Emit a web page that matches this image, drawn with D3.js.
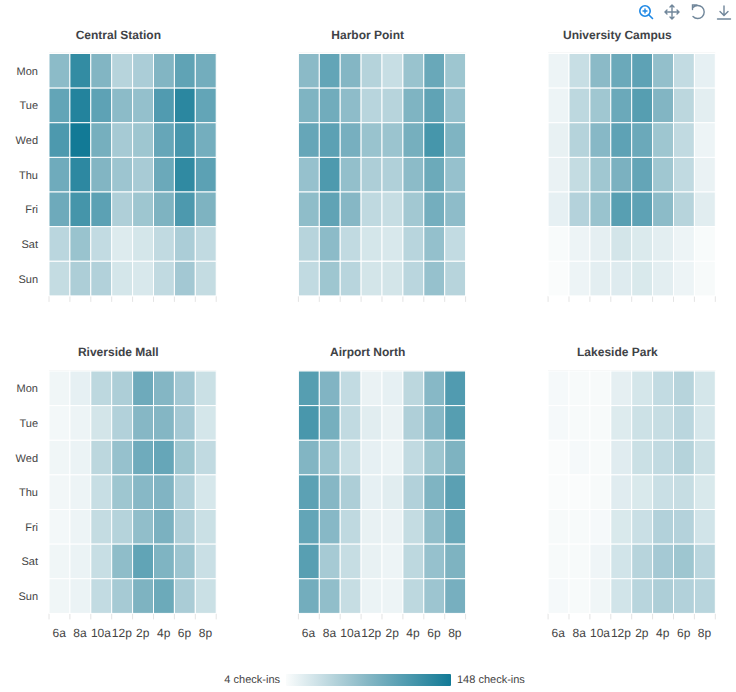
<!DOCTYPE html>
<html><head><meta charset="utf-8">
<script src="https://cdn.jsdelivr.net/npm/d3@7"></script>
<style>html,body{margin:0;padding:0;background:#fff}svg{display:block}text{font-family:"Liberation Sans",Arial,sans-serif;text-rendering:geometricPrecision}</style>
</head><body><div id="chart"></div>
<script>
const days = ["Mon","Tue","Wed","Thu","Fri","Sat","Sun"];
const hours = ["6a","8a","10a","12p","2p","4p","6p","8p"];
const locations = ["Central Station","Harbor Point","University Campus","Riverside Mall","Airport North","Lakeside Park"];
const centralStation = [
[71,127,77,45,52,77,99,87],[97,137,100,71,66,108,132,97],[111,148,85,55,60,95,114,86],
[89,131,77,61,54,92,129,101],[90,116,101,50,60,80,111,80],[43,63,38,22,27,39,52,39],[37,51,48,27,25,39,57,37]];
const harborPoint = [
[72,97,76,46,35,63,93,60],[79,88,70,44,45,79,99,65],[95,101,84,63,62,85,115,79],
[65,110,67,51,49,71,91,65],[69,99,75,40,36,58,86,70],[45,71,39,27,25,44,66,38],[39,60,44,28,28,43,65,45]];
const universityCampus = [
[12,35,72,92,100,67,38,16],[12,41,59,92,105,77,42,18],[15,46,74,100,92,60,39,12],
[14,37,59,82,96,59,39,14],[16,47,63,104,100,71,45,19],[5,12,17,28,23,18,12,5],[4,12,18,21,24,18,12,6]];
const riversideMall = [
[10,16,41,51,90,76,57,33],[8,12,28,48,75,76,56,27],[10,13,42,65,89,95,60,39],
[9,12,35,60,74,78,48,26],[8,12,37,46,68,82,50,33],[10,13,35,69,98,79,61,34],[10,13,38,55,80,91,53,33]];
const airportNorth = [
[105,78,38,14,16,42,74,108],[113,85,39,19,14,50,74,105],[77,62,34,16,13,39,60,80],
[101,75,51,16,19,48,79,102],[97,74,40,15,14,37,68,93],[104,55,36,15,12,41,65,80],[87,68,36,13,12,41,61,84]];
const lakesidePark = [
[7,6,6,17,27,38,45,27],[7,6,6,22,32,36,43,26],[4,7,6,20,33,39,46,32],
[4,4,6,20,24,34,36,24],[6,6,7,24,34,48,47,29],[6,6,11,29,45,56,60,43],[7,6,10,29,44,51,48,44]];
const panels = [centralStation,harborPoint,universityCampus,riversideMall,airportNorth,lakesidePark];
const legendMin = 4, legendMax = 148;

const W = 736, H = 692;
const svg = d3.select("#chart").append("svg").attr("width",W).attr("height",H).attr("viewBox",`0 0 ${W} ${H}`);
const color = d3.scaleLinear().domain([legendMin,(legendMin+legendMax)/2,legendMax])
  .range(["#fafcfc","#84b6c4","#127a96"]);

const colX = [49,298.4,548.1], rowY = [53.5,371], pw = 167.2, ph = 242.4;
const x = d3.scaleBand().domain(hours).range([0,pw]);
const y = d3.scaleBand().domain(days).range([0,ph]);

panels.forEach((matrix,i)=>{
  const col = i%3, row = Math.floor(i/3);
  const g = svg.append("g").attr("transform",`translate(${colX[col]},${rowY[row]})`);
  g.append("text").text(locations[i]).attr("x",pw/2-14.3).attr("y",-15)
    .attr("text-anchor","middle").attr("font-weight","bold").attr("font-size",12).attr("fill","#3f4347");
  g.append("line").attr("x1",0).attr("x2",pw).attr("y1",-0.5).attr("y2",-0.5).attr("stroke","#eef0f1");
  g.selectAll("line.tick").data(d3.range(hours.length+1)).enter().append("line").attr("class","tick")
    .attr("x1",d=>x.step()*d).attr("x2",d=>x.step()*d).attr("y1",ph).attr("y2",ph+6)
    .attr("stroke","#e4e4e4");
  matrix.forEach((vals,r)=>{
    g.selectAll(null).data(vals).enter().append("rect")
      .attr("x",(d,c)=>x(hours[c])).attr("y",y(days[r]))
      .attr("width",x.bandwidth()).attr("height",y.bandwidth())
      .attr("fill",d=>color(d)).attr("stroke","#fff").attr("stroke-width",1);
  });
  if(col===0){
    g.selectAll("text.day").data(days).enter().append("text").attr("class","day").text(d=>d)
      .attr("x",-11).attr("y",d=>y(d)+y.bandwidth()/2+4)
      .attr("text-anchor","end").attr("font-size",11).attr("fill","#444");
  }
  if(row===1){
    g.selectAll("text.hour").data(hours).enter().append("text").attr("class","hour").text(d=>d)
      .attr("x",d=>x(d)+x.bandwidth()/2-0.3).attr("y",ph+24)
      .attr("text-anchor","middle").attr("font-size",12).attr("fill","#444");
  }
});

// legend
const defs = svg.append("defs");
const grad = defs.append("linearGradient").attr("id","lg");
d3.range(0,1.01,0.1).forEach(t=>grad.append("stop").attr("offset",t)
  .attr("stop-color",color(legendMin+t*(legendMax-legendMin))));
svg.append("rect").attr("x",286).attr("y",674).attr("width",165).attr("height",12).attr("rx",1).attr("fill","url(#lg)");
svg.append("text").text(legendMin+" check-ins").attr("x",280).attr("y",683).attr("text-anchor","end").attr("font-size",11).attr("fill","#444");
svg.append("text").text(legendMax+" check-ins").attr("x",457).attr("y",683).attr("font-size",11).attr("fill","#444");

// toolbar
const tb = svg.append("g").attr("fill","none").attr("stroke-linecap","round");
const zoom = tb.append("g").attr("stroke","#1e88e5").attr("stroke-width",1.6);
zoom.append("circle").attr("cx",645).attr("cy",11).attr("r",5.2);
zoom.append("path").attr("d","M649 15L652.5 18.5");
zoom.append("path").attr("d","M643 11H647M645 9V13").attr("stroke-width",1.4);
const grey = "#70869a";
tb.append("path").attr("stroke",grey).attr("stroke-width",1.4)
  .attr("d","M672 5V19M665 12H679M670 7L672 5L674 7M670 17L672 19L674 17M667 10L665 12L667 14M677 10L679 12L677 14");
tb.append("path").attr("stroke",grey).attr("stroke-width",1.4)
  .attr("d","M693 7.5A6.5 6.5 0 1 1 693 16.5M697 5H692.5V9.5");
tb.append("path").attr("stroke",grey).attr("stroke-width",1.4).attr("d","M724 6V15M720 11.5L724 15.5L728 11.5M717.5 19H730.5");
</script></body></html>
